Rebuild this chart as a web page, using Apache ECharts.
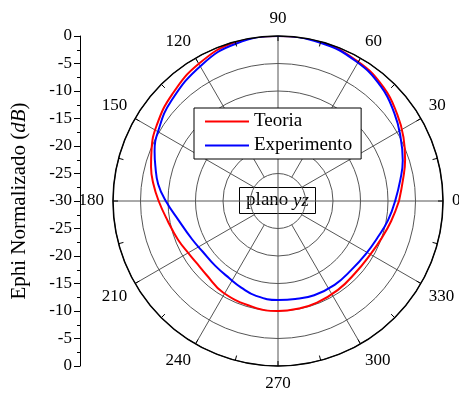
<!DOCTYPE html>
<html>
<head>
<meta charset="utf-8">
<script src="https://cdn.jsdelivr.net/npm/echarts@6/dist/echarts.min.js"></script>
<style>
html,body{margin:0;padding:0;background:#fff;}
#c{width:459px;height:396px;}
</style>
</head>
<body>
<div id="c"></div>
<script>
// ---- data ----
const angleTicks = [0, 30, 60, 90, 120, 150, 180, 210, 240, 270, 300, 330];
const sideTickLabels = ['0', '-5', '-10', '-15', '-20', '-25', '-30', '-25', '-20', '-15', '-10', '-5', '0'];
const teoriaAngles = [0,10,18,27,36,47,60,75,90,105,120,135,148,158,165,172,180,190,201,211,218,226,239,257,270,281,291,304,317,330,340,350,360];
const teoriaValues = [-8.0,-6.9,-5.7,-4.4,-3.2,-1.8,-0.8,-0.1,0,-0.1,-1.2,-2.7,-4.0,-5.2,-6.1,-7.1,-8.3,-9.6,-10.5,-11.2,-11.4,-11.3,-10.6,-10.2,-10.0,-10.1,-10.2,-10.5,-10.8,-10.6,-10.0,-9.1,-8.0];
const expAngles = [0,10,18,28,37,48,61,75,90,105,119,137,150,158,164,172,180,191,204,214,226,238,247,257,270,280,291,304,317,329,340,350,360];
const expValues = [-8.7,-7.4,-6.15,-4.8,-3.5,-2.0,-0.9,-0.2,0,-0.4,-1.6,-3.4,-4.8,-5.8,-6.8,-8.0,-9.6,-11.6,-12.9,-13.5,-13.6,-13.4,-12.9,-12.3,-12.0,-11.9,-11.65,-11.6,-11.7,-11.35,-10.7,-9.7,-8.7];

const FONT = 'Liberation Serif';
const cx = 278, cy = 201, R = 165;

const chart = echarts.init(document.getElementById('c'));

const spokeSeries = angleTicks.map(a => ({
  type: 'line',
  coordinateSystem: 'polar',
  data: [[(a % 90 === 0) ? -30 : -25, a], [0, a]],
  showSymbol: false,
  symbol: 'none',
  silent: true,
  lineStyle: { color: '#555', width: 1 },
  z: 1,
  animation: false
}));

const option = {
  animation: false,
  polar: { center: [cx, cy], radius: R },
  angleAxis: {
    type: 'value', min: 0, max: 360, interval: 30,
    startAngle: 0, clockwise: false,
    axisLine: { show: true, lineStyle: { color: '#000', width: 1.5 } },
    axisTick: { show: true, inside: true, length: 5, lineStyle: { color: '#000', width: 1 } },
    minorTick: { show: true, splitNumber: 2, length: 5, lineStyle: { color: '#000', width: 1 } },
    splitLine: { show: false },
    axisLabel: {
      show: true, margin: 9, fontFamily: FONT, fontSize: 17, color: '#000',
      formatter: v => (v >= 360 ? '' : String(v))
    },
    z: 5
  },
  radiusAxis: {
    type: 'value', min: -30, max: 0, interval: 5,
    axisLine: { show: false }, axisTick: { show: false }, axisLabel: { show: false },
    splitLine: { show: true, lineStyle: { color: '#555', width: 1 } }
  },
  grid: { left: 80, top: 36, width: 1, height: 330 },
  xAxis: { type: 'value', show: false, min: 0, max: 1 },
  yAxis: {
    type: 'value', min: 0, max: 60, interval: 5, position: 'left',
    axisLine: { show: true, lineStyle: { color: '#000', width: 1 } },
    axisTick: { show: true, inside: false, length: 6, lineStyle: { color: '#000' } },
    minorTick: { show: true, splitNumber: 2, length: 3, lineStyle: { color: '#000' } },
    splitLine: { show: false },
    axisLabel: {
      margin: 8, fontFamily: FONT, fontSize: 17, color: '#000',
      formatter: v => sideTickLabels[Math.round((60 - v) / 5)]
    },
    name: 'Ephi Normalizado ({i|dB})',
    nameLocation: 'middle', nameGap: 50, nameRotate: 90,
    nameTextStyle: {
      fontFamily: FONT, fontSize: 21, color: '#000',
      rich: { i: { fontFamily: FONT, fontSize: 21, fontStyle: 'italic', color: '#000' } }
    }
  },
  legend: {
    data: [{ name: 'Teoria', icon: 'rect' }, { name: 'Experimento', icon: 'rect' }],
    orient: 'vertical', left: 194, top: 108,
    backgroundColor: '#fff', borderColor: '#000', borderWidth: 1,
    padding: [3, 9, 3, 11], itemGap: 3, itemWidth: 44, itemHeight: 2,
    textStyle: { fontFamily: FONT, fontSize: 19, color: '#000', lineHeight: 21 },
    z: 10
  },
  graphic: [{
    type: 'group', left: 239, top: 187, z: 20,
    children: [
      { type: 'rect', shape: { x: 0, y: 0, width: 76, height: 26 }, style: { fill: '#fff', stroke: '#000', lineWidth: 1 } },
      { type: 'text', x: 38, y: 13, style: {
          text: 'plano {i|yz}', align: 'center', verticalAlign: 'middle',
          fontFamily: FONT, fontSize: 19, fill: '#000',
          rich: { i: { fontFamily: FONT, fontSize: 19, fontStyle: 'italic', fill: '#000' } }
        } }
    ]
  }],
  series: spokeSeries.concat([
    {
      name: 'Teoria', type: 'line', coordinateSystem: 'polar',
      data: teoriaAngles.map((a, i) => [teoriaValues[i], a]),
      showSymbol: false, symbol: 'none', smooth: 0.45,
      lineStyle: { color: '#ff0000', width: 2 }, itemStyle: { color: '#ff0000' }, z: 3
    },
    {
      name: 'Experimento', type: 'line', coordinateSystem: 'polar',
      data: expAngles.map((a, i) => [expValues[i], a]),
      showSymbol: false, symbol: 'none', smooth: 0.45,
      lineStyle: { color: '#0000ff', width: 2 }, itemStyle: { color: '#0000ff' }, z: 3
    }
  ])
};
chart.setOption(option);
</script>
</body>
</html>
